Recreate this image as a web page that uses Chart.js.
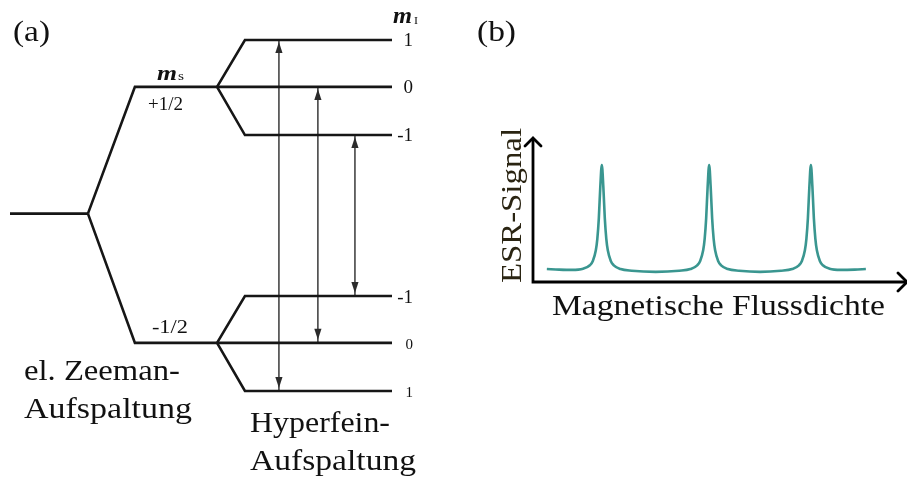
<!DOCTYPE html>
<html><head><meta charset="utf-8">
<script src="https://cdn.jsdelivr.net/npm/chart.js@4"></script>
<style>
html,body{margin:0;padding:0;background:#fff;}
#wrap{position:relative;width:907px;height:479px;overflow:hidden;background:#fff;}
#boxA{position:absolute;left:0;top:0;width:460px;height:479px;}
#boxB{position:absolute;left:460px;top:0;width:447px;height:479px;}
canvas{display:block;}
</style></head><body>
<div id="wrap">
  <div id="boxA"><canvas id="cA" width="460" height="479"></canvas></div>
  <div id="boxB"><canvas id="cB" width="447" height="479"></canvas></div>
</div>
<script>
// ---------- data: (a) energy level scheme ----------
const stageX = [0, 20.4, 32.7, 54.2, 61.5, 100];      // start, Zeeman split, ms level, HF split, HF level, end
const msLabels = ['+1/2', '-1/2'];
const msEnergy = [1.0, -1.02];
const mILabels = ['1', '0', '-1'];
const hfUpperEnergy = [1.37, 1.0, 0.62];               // ms=+1/2, mI = 1, 0, -1
const hfLowerEnergy = [-1.40, -1.02, -0.65];           // ms=-1/2, mI = 1, 0, -1
const transitionX = [70.4, 80.6, 90.3];                // mI = 1, 0, -1

// ---------- data: (b) ESR spectrum ----------
const fieldValues = [3.7, 7.0, 10.4, 13.4, 15.2, 16.0, 16.8, 17.2, 17.6, 18.0, 18.4, 18.8, 19.2, 19.6, 20.0, 20.8, 21.6,
  23.4, 26.4, 32.8, 39.1, 42.1,
  43.9, 44.7, 45.5, 45.9, 46.3, 46.7, 47.1, 47.5, 47.9, 48.3, 48.7, 49.5, 50.3,
  52.1, 55.1, 60.7, 66.3, 69.3,
  71.1, 71.9, 72.7, 73.1, 73.5, 73.9, 74.3, 74.7, 75.1, 75.5, 75.9, 76.7, 77.5,
  79.3, 82.3, 86.0, 89.0];
const signalValues = [9.0, 8.6, 8.4, 9.2, 11.6, 14.6, 22.0, 30.0, 44.2, 66.4, 81.3, 66.4, 44.2, 30.0, 22.0, 14.6, 11.6,
  9.0, 7.8, 7.0, 7.8, 9.0,
  11.6, 14.6, 22.0, 30.0, 44.2, 66.4, 81.3, 66.4, 44.2, 30.0, 22.0, 14.6, 11.6,
  9.0, 7.8, 7.0, 7.8, 9.0,
  11.6, 14.6, 22.0, 30.0, 44.2, 66.4, 81.3, 66.4, 44.2, 30.0, 22.0, 14.6, 11.6,
  9.2, 8.4, 8.6, 9.0];

// ---------- styles ----------
const SERIF = '"Liberation Serif", "DejaVu Serif", serif';
const LEVEL_COLOR = '#161616';
const ARROW_COLOR = '#2b2b2b';
const CURVE_COLOR = '#3a9690';
const labelX = 105.5;                 // right edge of mI labels (diagram units)
const lowerLabelSize = [15, 15, 19];  // font size of mI labels on ms=-1/2 branch

function drawText(ctx, s, x, y, o) {
  ctx.save();
  ctx.font = (o.style || '') + ' ' + o.size + 'px ' + SERIF;
  const w = ctx.measureText(s).width;
  const sx = o.width ? o.width / w : 1;
  ctx.translate(x, y);
  if (o.rotate) ctx.rotate(o.rotate);
  ctx.scale(sx, 1);
  ctx.textAlign = o.align || 'left';
  ctx.textBaseline = o.baseline || 'alphabetic';
  ctx.fillStyle = o.color || '#111';
  ctx.fillText(s, 0, 0);
  ctx.restore();
}

// ---------- chart (a) datasets ----------
function seg(points, extra) {
  return Object.assign({
    data: points.map(p => ({x: p[0], y: p[1]})),
    showLine: true, borderColor: LEVEL_COLOR, borderWidth: 2.6,
    pointRadius: 0, tension: 0, clip: false, fill: false,
    borderCapStyle: 'butt', borderJoinStyle: 'miter'
  }, extra || {});
}
const dsA = [];
dsA.push(seg([[stageX[0], 0], [stageX[1], 0]]));
msEnergy.forEach(e => dsA.push(seg([[stageX[1], 0], [stageX[2], e], [stageX[5], e]])));
[hfUpperEnergy, hfLowerEnergy].forEach((hf, i) => {
  hf.forEach(e => {
    if (e !== msEnergy[i]) dsA.push(seg([[stageX[3], msEnergy[i]], [stageX[4], e], [stageX[5], e]]));
  });
});
transitionX.forEach((x, j) => {
  dsA.push(seg([[x, hfLowerEnergy[j]], [x, hfUpperEnergy[j]]], {borderColor: ARROW_COLOR, borderWidth: 1.4, isArrow: true}));
});

const pluginA = {
  id: 'decoA',
  afterDatasetsDraw(chart) {
    const ctx = chart.ctx, xs = chart.scales.x, ys = chart.scales.y;
    // arrow heads
    chart.data.datasets.forEach((ds, k) => {
      if (!ds.isArrow) return;
      const pts = chart.getDatasetMeta(k).data;
      const xb = pts[0].x, yb = pts[0].y, yt = pts[1].y;
      ctx.save(); ctx.fillStyle = ARROW_COLOR;
      ctx.beginPath(); ctx.moveTo(xb, yt + 2); ctx.lineTo(xb - 3.6, yt + 13); ctx.lineTo(xb + 3.6, yt + 13); ctx.closePath(); ctx.fill();
      ctx.beginPath(); ctx.moveTo(xb, yb - 3); ctx.lineTo(xb - 3.6, yb - 14); ctx.lineTo(xb + 3.6, yb - 14); ctx.closePath(); ctx.fill();
      ctx.restore();
    });
    // mI labels
    const lx = xs.getPixelForValue(labelX);
    hfUpperEnergy.forEach((e, j) => drawText(ctx, mILabels[j], lx, ys.getPixelForValue(e) + 1, {size: 19, align: 'right', baseline: 'middle'}));
    hfLowerEnergy.forEach((e, j) => drawText(ctx, mILabels[j], lx, ys.getPixelForValue(e) + 2, {size: lowerLabelSize[j], align: 'right', baseline: 'middle'}));
    // headers m_I and m_s
    const topY = ys.getPixelForValue(hfUpperEnergy[0]);
    drawText(ctx, 'm', lx - 20, topY - 17, {size: 23, style: 'italic bold', width: 19});
    drawText(ctx, 'I', lx + 1, topY - 16, {size: 11, width: 4});
    const msPx = msEnergy.map(e => ys.getPixelForValue(e));
    const msx = xs.getPixelForValue(stageX[2]);
    drawText(ctx, 'm', msx + 22, msPx[0] - 7, {size: 22, style: 'italic bold', width: 20});
    drawText(ctx, 's', msx + 43, msPx[0] - 7, {size: 13, width: 6});
    drawText(ctx, msLabels[0], msx + 13, msPx[0] + 23, {size: 18, width: 35});
    drawText(ctx, msLabels[1], msx + 17, msPx[1] - 10, {size: 18, width: 36});
    // captions
    drawText(ctx, '(a)', 13, 41, {size: 30, width: 37});
    drawText(ctx, 'el. Zeeman-', 24, 380, {size: 30, width: 156});
    drawText(ctx, 'Aufspaltung', 24, 418, {size: 30, width: 168});
    drawText(ctx, 'Hyperfein-', 250, 432, {size: 30, width: 140});
    drawText(ctx, 'Aufspaltung', 250, 470, {size: 30, width: 166});
  }
};

new Chart(document.getElementById('cA'), {
  type: 'scatter',
  data: {datasets: dsA},
  options: {
    responsive: false, animation: false, devicePixelRatio: 1,
    layout: {padding: {left: 10, right: 68, top: 40, bottom: 88}},
    plugins: {legend: {display: false}, tooltip: {enabled: false}},
    scales: {
      x: {type: 'linear', display: false, min: 0, max: 100},
      y: {type: 'linear', display: false, min: -1.40, max: 1.37}
    }
  },
  plugins: [pluginA]
});

// ---------- chart (b) ----------
const pluginB = {
  id: 'decoB',
  afterDatasetsDraw(chart) {
    const ctx = chart.ctx, xs = chart.scales.x, ys = chart.scales.y;
    const x0 = xs.getPixelForValue(0), x1 = xs.getPixelForValue(100);
    const y0 = ys.getPixelForValue(0), y1 = ys.getPixelForValue(100);
    ctx.save();
    ctx.strokeStyle = '#000'; ctx.lineWidth = 2.8; ctx.lineCap = 'butt'; ctx.lineJoin = 'miter';
    ctx.beginPath(); ctx.moveTo(x0, y1 + 1); ctx.lineTo(x0, y0); ctx.lineTo(x1, y0); ctx.stroke();
    ctx.lineCap = 'round';
    ctx.beginPath(); ctx.moveTo(x0 - 8, y1 + 8); ctx.lineTo(x0, y1); ctx.lineTo(x0 + 8, y1 + 8); ctx.stroke();
    ctx.beginPath(); ctx.moveTo(x1 - 9, y0 - 9); ctx.lineTo(x1, y0); ctx.lineTo(x1 - 9, y0 + 9); ctx.stroke();
    ctx.restore();
    drawText(ctx, '(b)', 17, 41, {size: 30, width: 39});
    drawText(ctx, 'ESR-Signal', 61, 283, {size: 30, width: 155, rotate: -Math.PI / 2, color: '#2a2412'});
    drawText(ctx, 'Magnetische Flussdichte', 92, 315, {size: 30, width: 333});
  }
};

new Chart(document.getElementById('cB'), {
  type: 'scatter',
  data: {datasets: [{
    data: fieldValues.map((x, i) => ({x: x, y: signalValues[i]})),
    showLine: true, borderColor: CURVE_COLOR, borderWidth: 2.6, pointRadius: 0,
    cubicInterpolationMode: 'monotone', fill: false, clip: false
  }]},
  options: {
    responsive: false, animation: false, devicePixelRatio: 1,
    layout: {padding: {left: 73, right: 0, top: 138, bottom: 197}},
    plugins: {legend: {display: false}, tooltip: {enabled: false}},
    scales: {
      x: {type: 'linear', display: false, min: 0, max: 100},
      y: {type: 'linear', display: false, min: 0, max: 100}
    }
  },
  plugins: [pluginB]
});
</script>
</body></html>
